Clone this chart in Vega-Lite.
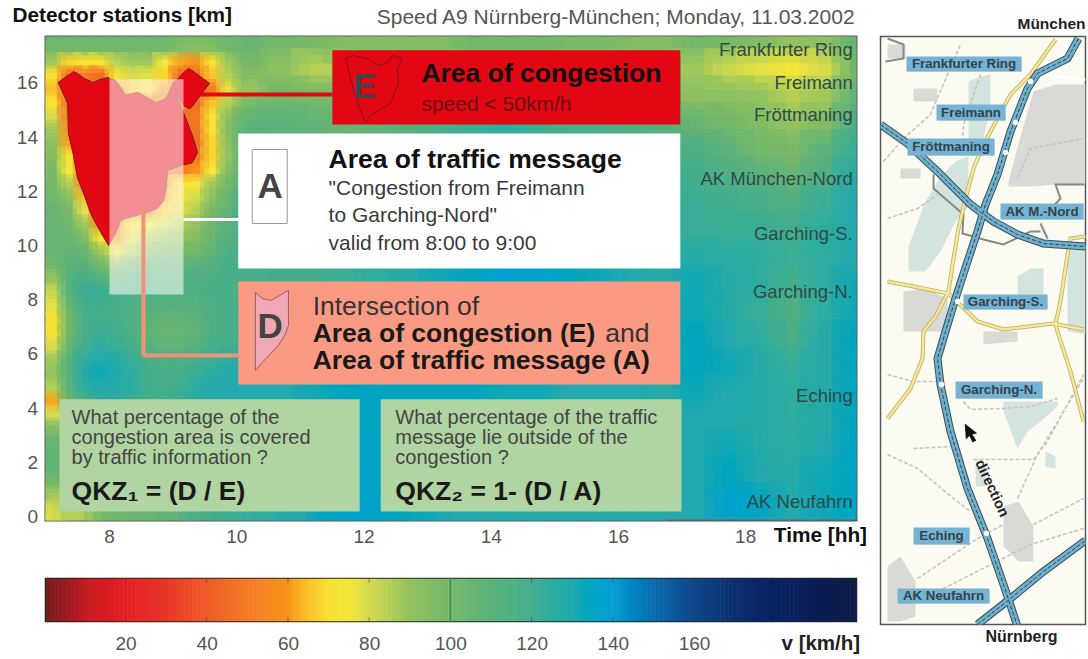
{"$schema":"https://vega.github.io/schema/vega-lite/v6.json","background":"white","padding":{"left":10.5,"top":3.5,"right":1,"bottom":6},"spacing":11,"config":{"font":"Liberation Sans","view":{"stroke":null}},
"hconcat":[{"bounds":"flush","spacing":58,"vconcat":[
{"width":811,"height":484,"view":{"fill":"#2ba7ae","stroke":"#555","strokeWidth":2},
"encoding":{"x":{"field":"t","type":"quantitative","title":null,"scale":{"domain":[7,19.75],"nice":false,"zero":false},"axis":{"values":[8,10,12,14,16,18],"ticks":false,"domain":false,"grid":false,"labelColor":"#555","labelFontSize":19,"labelPadding":7}},"y":{"field":"k","type":"quantitative","title":null,"scale":{"domain":[-0.15,17.71],"nice":false,"zero":false},"axis":{"values":[0,2,4,6,8,10,12,14,16],"ticks":false,"domain":false,"grid":false,"labelColor":"#555","labelFontSize":19,"labelPadding":8}}},
"layer":[
{"encoding":{"color":{"field":"v","type":"quantitative","legend":null,"scale":{"domain":[0,4,11,19,30,40,50,60,65,70,75,80,90,100,110,120,130,140,150,160,170,180,190,200],"range":["#6e1a1e","#8f1a1d","#c81c20","#e31e24","#e83428","#f05a28","#f47a26","#f7941d","#f9c22a","#f8e02f","#f5e63a","#d6db4e","#94c25f","#74b86a","#5db27a","#43ae8e","#23a9ae","#0f9fd3","#0b6cb0","#0d4688","#0b2f72","#08225f","#0a1d58","#0e1a45"]}}},
"layer":[
{"mark":{"type":"rect","width":17,"height":14.5,"clip":true},"data":{"name":"fine","values":[
{"t":7.125,"k":17.75,"v":105},{"t":7.375,"k":17.75,"v":105},{"t":7.625,"k":17.75,"v":105},{"t":7.875,"k":17.75,"v":105},{"t":8.125,"k":17.75,"v":105},{"t":8.375,"k":17.75,"v":105},{"t":8.625,"k":17.75,"v":105},{"t":8.875,"k":17.75,"v":105},{"t":9.125,"k":17.75,"v":100},{"t":9.375,"k":17.75,"v":100},{"t":9.625,"k":17.75,"v":100},{"t":9.875,"k":17.75,"v":105},{"t":10.125,"k":17.75,"v":105},{"t":10.375,"k":17.75,"v":105},
{"t":7.125,"k":17.25,"v":100},{"t":7.375,"k":17.25,"v":100},{"t":7.625,"k":17.25,"v":100},{"t":7.875,"k":17.25,"v":100},{"t":8.125,"k":17.25,"v":100},{"t":8.375,"k":17.25,"v":100},{"t":8.625,"k":17.25,"v":100},{"t":8.875,"k":17.25,"v":100},{"t":9.125,"k":17.25,"v":95},{"t":9.375,"k":17.25,"v":92},{"t":9.625,"k":17.25,"v":95},{"t":9.875,"k":17.25,"v":100},{"t":10.125,"k":17.25,"v":105},{"t":10.375,"k":17.25,"v":105},
{"t":7.125,"k":16.75,"v":88},{"t":7.375,"k":16.75,"v":68},{"t":7.625,"k":16.75,"v":72},{"t":7.875,"k":16.75,"v":70},{"t":8.125,"k":16.75,"v":84},{"t":8.375,"k":16.75,"v":88},{"t":8.625,"k":16.75,"v":88},{"t":8.875,"k":16.75,"v":75},{"t":9.125,"k":16.75,"v":62},{"t":9.375,"k":16.75,"v":60},{"t":9.625,"k":16.75,"v":72},{"t":9.875,"k":16.75,"v":88},{"t":10.125,"k":16.75,"v":98},{"t":10.375,"k":16.75,"v":100},
{"t":7.125,"k":16.25,"v":70},{"t":7.375,"k":16.25,"v":45},{"t":7.625,"k":16.25,"v":50},{"t":7.875,"k":16.25,"v":45},{"t":8.125,"k":16.25,"v":72},{"t":8.375,"k":16.25,"v":80},{"t":8.625,"k":16.25,"v":78},{"t":8.875,"k":16.25,"v":68},{"t":9.125,"k":16.25,"v":45},{"t":9.375,"k":16.25,"v":45},{"t":9.625,"k":16.25,"v":65},{"t":9.875,"k":16.25,"v":85},{"t":10.125,"k":16.25,"v":95},{"t":10.375,"k":16.25,"v":95},
{"t":7.125,"k":15.75,"v":65},{"t":7.375,"k":15.75,"v":45},{"t":7.625,"k":15.75,"v":45},{"t":7.875,"k":15.75,"v":45},{"t":8.125,"k":15.75,"v":55},{"t":8.375,"k":15.75,"v":65},{"t":8.625,"k":15.75,"v":70},{"t":8.875,"k":15.75,"v":60},{"t":9.125,"k":15.75,"v":45},{"t":9.375,"k":15.75,"v":45},{"t":9.625,"k":15.75,"v":52},{"t":9.875,"k":15.75,"v":78},{"t":10.125,"k":15.75,"v":90},{"t":10.375,"k":15.75,"v":90},
{"t":7.125,"k":15.25,"v":72},{"t":7.375,"k":15.25,"v":45},{"t":7.625,"k":15.25,"v":45},{"t":7.875,"k":15.25,"v":45},{"t":8.125,"k":15.25,"v":45},{"t":8.375,"k":15.25,"v":50},{"t":8.625,"k":15.25,"v":55},{"t":8.875,"k":15.25,"v":50},{"t":9.125,"k":15.25,"v":45},{"t":9.375,"k":15.25,"v":45},{"t":9.625,"k":15.25,"v":65},{"t":9.875,"k":15.25,"v":85},{"t":10.125,"k":15.25,"v":95},{"t":10.375,"k":15.25,"v":100},
{"t":7.125,"k":14.75,"v":80},{"t":7.375,"k":14.75,"v":50},{"t":7.625,"k":14.75,"v":45},{"t":7.875,"k":14.75,"v":45},{"t":8.125,"k":14.75,"v":45},{"t":8.375,"k":14.75,"v":45},{"t":8.625,"k":14.75,"v":45},{"t":8.875,"k":14.75,"v":45},{"t":9.125,"k":14.75,"v":45},{"t":9.375,"k":14.75,"v":50},{"t":9.625,"k":14.75,"v":72},{"t":9.875,"k":14.75,"v":92},{"t":10.125,"k":14.75,"v":105},{"t":10.375,"k":14.75,"v":108},
{"t":7.125,"k":14.25,"v":88},{"t":7.375,"k":14.25,"v":60},{"t":7.625,"k":14.25,"v":45},{"t":7.875,"k":14.25,"v":45},{"t":8.125,"k":14.25,"v":45},{"t":8.375,"k":14.25,"v":45},{"t":8.625,"k":14.25,"v":45},{"t":8.875,"k":14.25,"v":45},{"t":9.125,"k":14.25,"v":45},{"t":9.375,"k":14.25,"v":48},{"t":9.625,"k":14.25,"v":72},{"t":9.875,"k":14.25,"v":95},{"t":10.125,"k":14.25,"v":108},{"t":10.375,"k":14.25,"v":112},
{"t":7.125,"k":13.75,"v":92},{"t":7.375,"k":13.75,"v":62},{"t":7.625,"k":13.75,"v":45},{"t":7.875,"k":13.75,"v":45},{"t":8.125,"k":13.75,"v":45},{"t":8.375,"k":13.75,"v":45},{"t":8.625,"k":13.75,"v":45},{"t":8.875,"k":13.75,"v":45},{"t":9.125,"k":13.75,"v":45},{"t":9.375,"k":13.75,"v":45},{"t":9.625,"k":13.75,"v":68},{"t":9.875,"k":13.75,"v":92},{"t":10.125,"k":13.75,"v":108},{"t":10.375,"k":13.75,"v":115},
{"t":7.125,"k":13.25,"v":95},{"t":7.375,"k":13.25,"v":70},{"t":7.625,"k":13.25,"v":48},{"t":7.875,"k":13.25,"v":45},{"t":8.125,"k":13.25,"v":45},{"t":8.375,"k":13.25,"v":45},{"t":8.625,"k":13.25,"v":45},{"t":8.875,"k":13.25,"v":45},{"t":9.125,"k":13.25,"v":45},{"t":9.375,"k":13.25,"v":50},{"t":9.625,"k":13.25,"v":68},{"t":9.875,"k":13.25,"v":90},{"t":10.125,"k":13.25,"v":108},{"t":10.375,"k":13.25,"v":115},
{"t":7.125,"k":12.75,"v":98},{"t":7.375,"k":12.75,"v":75},{"t":7.625,"k":12.75,"v":50},{"t":7.875,"k":12.75,"v":45},{"t":8.125,"k":12.75,"v":45},{"t":8.375,"k":12.75,"v":45},{"t":8.625,"k":12.75,"v":45},{"t":8.875,"k":12.75,"v":45},{"t":9.125,"k":12.75,"v":48},{"t":9.375,"k":12.75,"v":60},{"t":9.625,"k":12.75,"v":75},{"t":9.875,"k":12.75,"v":95},{"t":10.125,"k":12.75,"v":110},{"t":10.375,"k":12.75,"v":118},
{"t":7.125,"k":12.25,"v":100},{"t":7.375,"k":12.25,"v":85},{"t":7.625,"k":12.25,"v":58},{"t":7.875,"k":12.25,"v":45},{"t":8.125,"k":12.25,"v":45},{"t":8.375,"k":12.25,"v":45},{"t":8.625,"k":12.25,"v":45},{"t":8.875,"k":12.25,"v":58},{"t":9.125,"k":12.25,"v":70},{"t":9.375,"k":12.25,"v":75},{"t":9.625,"k":12.25,"v":88},{"t":9.875,"k":12.25,"v":100},{"t":10.125,"k":12.25,"v":112},{"t":10.375,"k":12.25,"v":118},
{"t":7.125,"k":11.75,"v":102},{"t":7.375,"k":11.75,"v":92},{"t":7.625,"k":11.75,"v":65},{"t":7.875,"k":11.75,"v":45},{"t":8.125,"k":11.75,"v":45},{"t":8.375,"k":11.75,"v":45},{"t":8.625,"k":11.75,"v":45},{"t":8.875,"k":11.75,"v":62},{"t":9.125,"k":11.75,"v":72},{"t":9.375,"k":11.75,"v":80},{"t":9.625,"k":11.75,"v":92},{"t":9.875,"k":11.75,"v":105},{"t":10.125,"k":11.75,"v":115},{"t":10.375,"k":11.75,"v":118},
{"t":7.125,"k":11.25,"v":105},{"t":7.375,"k":11.25,"v":98},{"t":7.625,"k":11.25,"v":78},{"t":7.875,"k":11.25,"v":50},{"t":8.125,"k":11.25,"v":45},{"t":8.375,"k":11.25,"v":45},{"t":8.625,"k":11.25,"v":50},{"t":8.875,"k":11.25,"v":68},{"t":9.125,"k":11.25,"v":78},{"t":9.375,"k":11.25,"v":85},{"t":9.625,"k":11.25,"v":98},{"t":9.875,"k":11.25,"v":108},{"t":10.125,"k":11.25,"v":118},{"t":10.375,"k":11.25,"v":118},
{"t":7.125,"k":10.75,"v":105},{"t":7.375,"k":10.75,"v":102},{"t":7.625,"k":10.75,"v":88},{"t":7.875,"k":10.75,"v":60},{"t":8.125,"k":10.75,"v":52},{"t":8.375,"k":10.75,"v":70},{"t":8.625,"k":10.75,"v":75},{"t":8.875,"k":10.75,"v":80},{"t":9.125,"k":10.75,"v":85},{"t":9.375,"k":10.75,"v":90},{"t":9.625,"k":10.75,"v":102},{"t":9.875,"k":10.75,"v":110},{"t":10.125,"k":10.75,"v":118},{"t":10.375,"k":10.75,"v":118},
{"t":7.125,"k":10.25,"v":105},{"t":7.375,"k":10.25,"v":105},{"t":7.625,"k":10.25,"v":95},{"t":7.875,"k":10.25,"v":72},{"t":8.125,"k":10.25,"v":60},{"t":8.375,"k":10.25,"v":78},{"t":8.625,"k":10.25,"v":85},{"t":8.875,"k":10.25,"v":88},{"t":9.125,"k":10.25,"v":90},{"t":9.375,"k":10.25,"v":95},{"t":9.625,"k":10.25,"v":105},{"t":9.875,"k":10.25,"v":112},{"t":10.125,"k":10.25,"v":118},{"t":10.375,"k":10.25,"v":118},
{"t":7.125,"k":9.75,"v":105},{"t":7.375,"k":9.75,"v":108},{"t":7.625,"k":9.75,"v":105},{"t":7.875,"k":9.75,"v":88},{"t":8.125,"k":9.75,"v":78},{"t":8.375,"k":9.75,"v":85},{"t":8.625,"k":9.75,"v":92},{"t":8.875,"k":9.75,"v":95},{"t":9.125,"k":9.75,"v":100},{"t":9.375,"k":9.75,"v":100},{"t":9.625,"k":9.75,"v":108},{"t":9.875,"k":9.75,"v":115},{"t":10.125,"k":9.75,"v":118},{"t":10.375,"k":9.75,"v":118},
{"t":7.125,"k":9.25,"v":100},{"t":7.375,"k":9.25,"v":110},{"t":7.625,"k":9.25,"v":112},{"t":7.875,"k":9.25,"v":100},{"t":8.125,"k":9.25,"v":92},{"t":8.375,"k":9.25,"v":100},{"t":8.625,"k":9.25,"v":105},{"t":8.875,"k":9.25,"v":105},{"t":9.125,"k":9.25,"v":108},{"t":9.375,"k":9.25,"v":110},{"t":9.625,"k":9.25,"v":112},{"t":9.875,"k":9.25,"v":118},{"t":10.125,"k":9.25,"v":118},{"t":10.375,"k":9.25,"v":118},
{"t":7.125,"k":8.75,"v":90},{"t":7.375,"k":8.75,"v":112},{"t":7.625,"k":8.75,"v":118},{"t":7.875,"k":8.75,"v":112},{"t":8.125,"k":8.75,"v":108},{"t":8.375,"k":8.75,"v":110},{"t":8.625,"k":8.75,"v":112},{"t":8.875,"k":8.75,"v":112},{"t":9.125,"k":8.75,"v":112},{"t":9.375,"k":8.75,"v":115},{"t":9.625,"k":8.75,"v":115},{"t":9.875,"k":8.75,"v":118},{"t":10.125,"k":8.75,"v":118},{"t":10.375,"k":8.75,"v":118},
{"t":7.125,"k":8.25,"v":82},{"t":7.375,"k":8.25,"v":112},{"t":7.625,"k":8.25,"v":122},{"t":7.875,"k":8.25,"v":122},{"t":8.125,"k":8.25,"v":118},{"t":8.375,"k":8.25,"v":115},{"t":8.625,"k":8.25,"v":118},{"t":8.875,"k":8.25,"v":115},{"t":9.125,"k":8.25,"v":115},{"t":9.375,"k":8.25,"v":115},{"t":9.625,"k":8.25,"v":118},{"t":9.875,"k":8.25,"v":118},{"t":10.125,"k":8.25,"v":118},{"t":10.375,"k":8.25,"v":118},
{"t":7.125,"k":7.75,"v":78},{"t":7.375,"k":7.75,"v":105},{"t":7.625,"k":7.75,"v":120},{"t":7.875,"k":7.75,"v":120},{"t":8.125,"k":7.75,"v":118},{"t":8.375,"k":7.75,"v":115},{"t":8.625,"k":7.75,"v":113},{"t":8.875,"k":7.75,"v":112},{"t":9.125,"k":7.75,"v":112},{"t":9.375,"k":7.75,"v":112},{"t":9.625,"k":7.75,"v":115},{"t":9.875,"k":7.75,"v":118},
{"t":7.125,"k":7.25,"v":72},{"t":7.375,"k":7.25,"v":100},{"t":7.625,"k":7.25,"v":118},{"t":7.875,"k":7.25,"v":120},{"t":8.125,"k":7.25,"v":118},{"t":8.375,"k":7.25,"v":115},{"t":8.625,"k":7.25,"v":110},{"t":8.875,"k":7.25,"v":108},{"t":9.125,"k":7.25,"v":108},{"t":9.375,"k":7.25,"v":110},{"t":9.625,"k":7.25,"v":115},{"t":9.875,"k":7.25,"v":118},
{"t":7.125,"k":6.75,"v":72},{"t":7.375,"k":6.75,"v":100},{"t":7.625,"k":6.75,"v":118},{"t":7.875,"k":6.75,"v":122},{"t":8.125,"k":6.75,"v":120},{"t":8.375,"k":6.75,"v":115},{"t":8.625,"k":6.75,"v":108},{"t":8.875,"k":6.75,"v":105},{"t":9.125,"k":6.75,"v":105},{"t":9.375,"k":6.75,"v":108},{"t":9.625,"k":6.75,"v":115},{"t":9.875,"k":6.75,"v":118},
{"t":7.125,"k":6.25,"v":80},{"t":7.375,"k":6.25,"v":105},{"t":7.625,"k":6.25,"v":120},{"t":7.875,"k":6.25,"v":125},{"t":8.125,"k":6.25,"v":122},{"t":8.375,"k":6.25,"v":118},{"t":8.625,"k":6.25,"v":112},{"t":8.875,"k":6.25,"v":108},{"t":9.125,"k":6.25,"v":108},{"t":9.375,"k":6.25,"v":112},{"t":9.625,"k":6.25,"v":118},{"t":9.875,"k":6.25,"v":120},
{"t":7.125,"k":5.75,"v":88},{"t":7.375,"k":5.75,"v":112},{"t":7.625,"k":5.75,"v":125},{"t":7.875,"k":5.75,"v":130},{"t":8.125,"k":5.75,"v":128},{"t":8.375,"k":5.75,"v":122},{"t":8.625,"k":5.75,"v":118},{"t":8.875,"k":5.75,"v":115},{"t":9.125,"k":5.75,"v":115},{"t":9.375,"k":5.75,"v":118},{"t":9.625,"k":5.75,"v":122},{"t":9.875,"k":5.75,"v":125},
{"t":7.125,"k":5.25,"v":90},{"t":7.375,"k":5.25,"v":112},{"t":7.625,"k":5.25,"v":128},{"t":7.875,"k":5.25,"v":132},{"t":8.125,"k":5.25,"v":130},{"t":8.375,"k":5.25,"v":125},{"t":8.625,"k":5.25,"v":120},{"t":8.875,"k":5.25,"v":118},{"t":9.125,"k":5.25,"v":118},{"t":9.375,"k":5.25,"v":122},{"t":9.625,"k":5.25,"v":125},{"t":9.875,"k":5.25,"v":128},
{"t":7.125,"k":4.75,"v":85},{"t":7.375,"k":4.75,"v":110},{"t":7.625,"k":4.75,"v":125},{"t":7.875,"k":4.75,"v":130},{"t":8.125,"k":4.75,"v":128},{"t":8.375,"k":4.75,"v":125},{"t":8.625,"k":4.75,"v":120},{"t":8.875,"k":4.75,"v":118},{"t":9.125,"k":4.75,"v":120},{"t":9.375,"k":4.75,"v":125},{"t":9.625,"k":4.75,"v":128},{"t":9.875,"k":4.75,"v":130},
{"t":7.125,"k":4.25,"v":62},{"t":7.375,"k":4.25,"v":105},{"t":7.625,"k":4.25,"v":118},{"t":7.875,"k":4.25,"v":125},{"t":8.125,"k":4.25,"v":125},{"t":8.375,"k":4.25,"v":122},{"t":8.625,"k":4.25,"v":120},{"t":8.875,"k":4.25,"v":120},{"t":9.125,"k":4.25,"v":122},{"t":9.375,"k":4.25,"v":125},{"t":9.625,"k":4.25,"v":128},{"t":9.875,"k":4.25,"v":130},
{"t":7.125,"k":3.75,"v":80},{"t":7.125,"k":3.25,"v":95},{"t":7.125,"k":2.75,"v":105},{"t":7.125,"k":2.25,"v":108},{"t":7.125,"k":1.75,"v":108},{"t":7.125,"k":1.25,"v":100},{"t":7.125,"k":0.75,"v":88},{"t":7.125,"k":0.25,"v":80},{"t":7.125,"k":-0.25,"v":78}
]}},
{"mark":{"type":"rect","width":25,"height":21,"opacity":0.4,"clip":true},"data":{"name":"fine"}},
{"mark":{"type":"rect","width":33,"height":28,"clip":true},"data":{"name":"coarse","values":[
{"t":7.5,"k":0,"v":85},{"t":8,"k":0,"v":100},{"t":8.5,"k":0,"v":105},{"t":9,"k":0,"v":108},{"t":9.5,"k":0,"v":118},{"t":10,"k":0,"v":122},{"t":10.5,"k":0,"v":125},{"t":11,"k":0,"v":130},{"t":11.5,"k":0,"v":136},{"t":12,"k":0,"v":138},{"t":12.5,"k":0,"v":134},{"t":13,"k":0,"v":132},{"t":13.5,"k":0,"v":130},{"t":14,"k":0,"v":130},{"t":14.5,"k":0,"v":128},{"t":15,"k":0,"v":128},{"t":15.5,"k":0,"v":128},{"t":16,"k":0,"v":128},{"t":16.5,"k":0,"v":128},
{"t":10.75,"k":17.5,"v":100},{"t":11.25,"k":17.5,"v":98},{"t":10.75,"k":16.5,"v":92},{"t":11.25,"k":16.5,"v":85},{"t":10.75,"k":15.5,"v":100},{"t":11.25,"k":15.5,"v":98},{"t":10.75,"k":14.5,"v":110},{"t":11.25,"k":14.5,"v":108},
{"t":11.75,"k":17.5,"v":95},{"t":12.25,"k":17.5,"v":95},{"t":12.75,"k":17.5,"v":95},{"t":13.25,"k":17.5,"v":95},{"t":13.75,"k":17.5,"v":100},{"t":14.25,"k":17.5,"v":100},{"t":14.75,"k":17.5,"v":100},{"t":15.25,"k":17.5,"v":98},{"t":15.75,"k":17.5,"v":98},{"t":16.25,"k":17.5,"v":95},{"t":16.75,"k":17.5,"v":95},
{"t":11.75,"k":14.5,"v":105},{"t":12.25,"k":14.5,"v":108},{"t":12.75,"k":14.5,"v":112},{"t":13.25,"k":14.5,"v":118},{"t":13.75,"k":14.5,"v":122},{"t":14.25,"k":14.5,"v":125},{"t":14.75,"k":14.5,"v":122},{"t":15.25,"k":14.5,"v":118},{"t":15.75,"k":14.5,"v":118},{"t":16.25,"k":14.5,"v":115},{"t":16.75,"k":14.5,"v":112},
{"t":10.75,"k":9,"v":120},{"t":11.25,"k":9,"v":120},{"t":11.75,"k":9,"v":122},{"t":12.25,"k":9,"v":125},{"t":12.75,"k":9,"v":128},{"t":13.25,"k":9,"v":132},{"t":13.75,"k":9,"v":135},{"t":14.25,"k":9,"v":138},{"t":14.75,"k":9,"v":138},{"t":15.25,"k":9,"v":135},{"t":15.75,"k":9,"v":132},{"t":16.25,"k":9,"v":130},{"t":16.75,"k":9,"v":128},
{"t":10.25,"k":4.5,"v":130},{"t":10.75,"k":4.5,"v":130},{"t":11.25,"k":4.5,"v":132},{"t":11.75,"k":4.5,"v":135},{"t":12.25,"k":4.5,"v":135},{"t":12.75,"k":4.5,"v":135},{"t":13.25,"k":4.5,"v":135},{"t":13.75,"k":4.5,"v":135},{"t":14.25,"k":4.5,"v":132},{"t":14.75,"k":4.5,"v":132},{"t":15.25,"k":4.5,"v":130},{"t":15.75,"k":4.5,"v":130},{"t":16.25,"k":4.5,"v":130},{"t":16.75,"k":4.5,"v":128},
{"t":12.1,"k":1,"v":137},{"t":12.1,"k":2,"v":136},{"t":12.1,"k":3,"v":135},{"t":12.1,"k":4,"v":135},
{"t":17.25,"k":17.5,"v":100},{"t":17.75,"k":17.5,"v":98},{"t":18.25,"k":17.5,"v":95},{"t":18.75,"k":17.5,"v":90},{"t":19.25,"k":17.5,"v":92},{"t":19.75,"k":17.5,"v":105},
{"t":17.25,"k":16.5,"v":88},{"t":17.75,"k":16.5,"v":82},{"t":18.25,"k":16.5,"v":78},{"t":18.75,"k":16.5,"v":74},{"t":19.25,"k":16.5,"v":80},{"t":19.75,"k":16.5,"v":100},
{"t":17.25,"k":15.5,"v":92},{"t":17.75,"k":15.5,"v":92},{"t":18.25,"k":15.5,"v":90},{"t":18.75,"k":15.5,"v":85},{"t":19.25,"k":15.5,"v":88},{"t":19.75,"k":15.5,"v":108},
{"t":17.25,"k":14.5,"v":105},{"t":17.75,"k":14.5,"v":100},{"t":18.25,"k":14.5,"v":95},{"t":18.75,"k":14.5,"v":90},{"t":19.25,"k":14.5,"v":95},{"t":19.75,"k":14.5,"v":115},
{"t":17.25,"k":13.5,"v":115},{"t":17.75,"k":13.5,"v":110},{"t":18.25,"k":13.5,"v":100},{"t":18.75,"k":13.5,"v":98},{"t":19.25,"k":13.5,"v":110},{"t":19.75,"k":13.5,"v":122},
{"t":17.25,"k":12.5,"v":120},{"t":17.75,"k":12.5,"v":115},{"t":18.25,"k":12.5,"v":112},{"t":18.75,"k":12.5,"v":105},{"t":19.25,"k":12.5,"v":115},{"t":19.75,"k":12.5,"v":128},
{"t":17.25,"k":11.5,"v":122},{"t":17.75,"k":11.5,"v":120},{"t":18.25,"k":11.5,"v":118},{"t":18.75,"k":11.5,"v":115},{"t":19.25,"k":11.5,"v":122},{"t":19.75,"k":11.5,"v":130},
{"t":17.25,"k":10.5,"v":122},{"t":17.75,"k":10.5,"v":122},{"t":18.25,"k":10.5,"v":122},{"t":18.75,"k":10.5,"v":120},{"t":19.25,"k":10.5,"v":125},{"t":19.75,"k":10.5,"v":130},
{"t":17.25,"k":9.5,"v":128},{"t":17.75,"k":9.5,"v":126},{"t":18.25,"k":9.5,"v":125},{"t":18.75,"k":9.5,"v":122},{"t":19.25,"k":9.5,"v":125},{"t":19.75,"k":9.5,"v":130},
{"t":17.25,"k":8.5,"v":132},{"t":17.75,"k":8.5,"v":128},{"t":18.25,"k":8.5,"v":125},{"t":18.75,"k":8.5,"v":120},{"t":19.25,"k":8.5,"v":125},{"t":19.75,"k":8.5,"v":132},
{"t":17.25,"k":7.5,"v":132},{"t":17.75,"k":7.5,"v":128},{"t":18.25,"k":7.5,"v":122},{"t":18.75,"k":7.5,"v":115},{"t":19.25,"k":7.5,"v":125},{"t":19.75,"k":7.5,"v":132},
{"t":17.25,"k":6.5,"v":134},{"t":17.75,"k":6.5,"v":130},{"t":18.25,"k":6.5,"v":125},{"t":18.75,"k":6.5,"v":118},{"t":19.25,"k":6.5,"v":128},{"t":19.75,"k":6.5,"v":134},
{"t":17.25,"k":5.5,"v":134},{"t":17.75,"k":5.5,"v":132},{"t":18.25,"k":5.5,"v":128},{"t":18.75,"k":5.5,"v":124},{"t":19.25,"k":5.5,"v":128},{"t":19.75,"k":5.5,"v":134},
{"t":17.25,"k":4.5,"v":132},{"t":17.75,"k":4.5,"v":130},{"t":18.25,"k":4.5,"v":128},{"t":18.75,"k":4.5,"v":125},{"t":19.25,"k":4.5,"v":128},{"t":19.75,"k":4.5,"v":134},
{"t":17.25,"k":3.5,"v":130},{"t":17.75,"k":3.5,"v":130},{"t":18.25,"k":3.5,"v":128},{"t":18.75,"k":3.5,"v":125},{"t":19.25,"k":3.5,"v":128},{"t":19.75,"k":3.5,"v":134},
{"t":17.25,"k":2.5,"v":130},{"t":17.75,"k":2.5,"v":132},{"t":18.25,"k":2.5,"v":128},{"t":18.75,"k":2.5,"v":126},{"t":19.25,"k":2.5,"v":130},{"t":19.75,"k":2.5,"v":136},
{"t":17.25,"k":1.5,"v":130},{"t":17.75,"k":1.5,"v":134},{"t":18.25,"k":1.5,"v":130},{"t":18.75,"k":1.5,"v":128},{"t":19.25,"k":1.5,"v":132},{"t":19.75,"k":1.5,"v":136},
{"t":17.25,"k":0.5,"v":130},{"t":17.75,"k":0.5,"v":138},{"t":18.25,"k":0.5,"v":135},{"t":18.75,"k":0.5,"v":130},{"t":19.25,"k":0.5,"v":132},{"t":19.75,"k":0.5,"v":136}
]}},
{"mark":{"type":"rect","width":50,"height":42,"opacity":0.4,"clip":true},"data":{"name":"coarse"}}
]},
{"mark":{"type":"area","orient":"vertical","color":"#e30613","stroke":"#7a1a20","strokeWidth":1},"encoding":{"y2":{"field":"k2"},"detail":{"field":"g"}},"data":{"values":[
{"g":"main","t":7.2,"k":16.01,"k2":16.01},{"g":"main","t":7.35,"k":16.27,"k2":15.24},{"g":"main","t":7.36,"k":16.27,"k2":14.13},{"g":"main","t":7.44,"k":16.42,"k2":13.32},{"g":"main","t":7.5,"k":16.35,"k2":12.51},{"g":"main","t":7.61,"k":16.16,"k2":11.85},{"g":"main","t":7.71,"k":16.05,"k2":11.18},{"g":"main","t":7.75,"k":16.01,"k2":11},{"g":"main","t":7.86,"k":16.13,"k2":10.52},{"g":"main","t":7.99,"k":16.2,"k2":10},{"g":"main","t":8.02,"k":16.13,"k2":10.11},{"g":"main","t":8.1,"k":16.09,"k2":10.44},{"g":"main","t":8.18,"k":15.83,"k2":10.92},{"g":"main","t":8.26,"k":15.54,"k2":11},{"g":"main","t":8.45,"k":15.65,"k2":11.11},{"g":"main","t":8.73,"k":15.28,"k2":11.33},{"g":"main","t":8.76,"k":15.28,"k2":11.37},{"g":"main","t":8.86,"k":15.39,"k2":11.66},{"g":"main","t":8.89,"k":15.42,"k2":12.03},{"g":"main","t":8.92,"k":15.54,"k2":12.77},{"g":"main","t":9.01,"k":16.01,"k2":12.84},{"g":"main","t":9.09,"k":15.35,"k2":12.92},{"g":"main","t":9.17,"k":14.91,"k2":12.99},{"g":"main","t":9.2,"k":14.72,"k2":12.99},{"g":"main","t":9.28,"k":14.24,"k2":13.03},{"g":"main","t":9.31,"k":14.06,"k2":13.06},{"g":"main","t":9.39,"k":13.43,"k2":13.43},
{"g":"lobe","t":9.01,"k":16.01,"k2":16.01},{"g":"lobe","t":9.09,"k":16.16,"k2":15.46},{"g":"lobe","t":9.17,"k":16.38,"k2":15.17},{"g":"lobe","t":9.25,"k":16.53,"k2":15.06},{"g":"lobe","t":9.28,"k":16.49,"k2":15.06},{"g":"lobe","t":9.58,"k":15.98,"k2":15.98}
]}},
{"mark":{"type":"rect","color":"#ffffff","opacity":0.55},"encoding":{"x2":{"field":"t2"},"y2":{"field":"k2"}},"data":{"values":[{"t":8.006,"t2":9.17,"k":16.13,"k2":8.19}]}},
{"mark":{"type":"rule","color":"#e30613","strokeWidth":4},"encoding":{"x2":{"field":"t2"},"y2":{"field":"k2"}},"data":{"values":[{"t":9.43,"t2":11.51,"k":15.57,"k2":15.57}]}},
{"mark":{"type":"rule","color":"#ffffff","strokeWidth":3},"encoding":{"x2":{"field":"t2"},"y2":{"field":"k2"}},"data":{"values":[{"t":9.17,"t2":10.03,"k":10.96,"k2":10.96}]}},
{"mark":{"type":"rule","color":"#f4917a","strokeWidth":4},"encoding":{"x2":{"field":"t2"},"y2":{"field":"k2"}},"data":{"values":[{"t":8.54,"t2":8.54,"k":11.37,"k2":5.94},{"t":8.54,"t2":10.03,"k":5.94,"k2":5.94}]}},
{"mark":{"type":"rect","color":"#e30613"},"encoding":{"x2":{"field":"t2"},"y2":{"field":"k2"}},"data":{"values":[{"t":11.51,"t2":16.98,"k":17.2,"k2":14.46}]}},
{"mark":{"type":"rect","color":"#ffffff"},"encoding":{"x2":{"field":"t2"},"y2":{"field":"k2"}},"data":{"values":[{"t":10.03,"t2":16.98,"k":14.13,"k2":9.15}]}},
{"mark":{"type":"rect","color":"#fb9a83"},"encoding":{"x2":{"field":"t2"},"y2":{"field":"k2"}},"data":{"values":[{"t":10.03,"t2":16.98,"k":8.67,"k2":4.87}]}},
{"mark":{"type":"rect","color":"#b0d4a2"},"encoding":{"x2":{"field":"t2"},"y2":{"field":"k2"}},"data":{"values":[{"t":7.22,"t2":11.94,"k":4.32,"k2":0.18},{"t":12.27,"t2":17,"k":4.32,"k2":0.18}]}},
{"mark":{"type":"line","order":false,"color":"#7a1520","strokeWidth":1},"data":{"values":[{"t":11.72,"k":16.9},{"t":11.84,"k":17.01},{"t":12.06,"k":16.9},{"t":12.22,"k":16.64},{"t":12.38,"k":16.75},{"t":12.46,"k":17.01},{"t":12.61,"k":16.9},{"t":12.53,"k":16.53},{"t":12.55,"k":15.98},{"t":12.42,"k":15.24},{"t":12.3,"k":15.06},{"t":12.11,"k":14.8},{"t":12.03,"k":14.54},{"t":11.91,"k":15.24},{"t":11.8,"k":16.09},{"t":11.72,"k":16.9}]}},
{"mark":{"type":"rect","color":"#ffffff","stroke":"#999999","strokeWidth":1},"encoding":{"x2":{"field":"t2"},"y2":{"field":"k2"}},"data":{"values":[{"t":10.25,"t2":10.8,"k":13.54,"k2":10.81}]}},
{"mark":{"type":"area","orient":"vertical","color":"#f0a8b4","stroke":"#7a5058","strokeWidth":0.8},"encoding":{"y2":{"field":"k2"}},"data":{"values":[{"t":10.3,"k":8.27,"k2":5.39},{"t":10.41,"k":8.04,"k2":5.68},{"t":10.54,"k":7.97,"k2":6.01},{"t":10.66,"k":8.12,"k2":6.31},{"t":10.76,"k":8.27,"k2":6.68},{"t":10.82,"k":8.34,"k2":7.05}]}},
{"mark":{"type":"text","align":"center","baseline":"middle","fontSize":35,"fontWeight":"bold","color":"#444444"},"encoding":{"text":{"field":"s"}},"data":{"values":[{"s":"E","t":12.02,"k":15.85},{"s":"A","t":10.53,"k":12.15},{"s":"D","t":10.53,"k":7.0}]}},
{"mark":{"type":"text","align":"left","baseline":"middle","fontSize":20.8,"fontWeight":"bold","color":"#111111"},"encoding":{"text":{"field":"s"}},"data":{"values":[{"s":"Detector stations [km]","t":6.48,"k":18.45},{"s":"Time [hh]","t":18.45,"k":-0.74}]}},
{"mark":{"type":"text","align":"right","baseline":"middle","fontSize":21,"color":"#555555"},"encoding":{"text":{"field":"s"}},"data":{"values":[{"s":"Speed A9 Nürnberg-München; Monday, 11.03.2002","t":19.72,"k":18.41}]}},
{"mark":{"type":"text","align":"right","baseline":"middle","fontSize":18.5,"color":"#2f4a4a"},"encoding":{"text":{"field":"s"}},"data":{"values":[{"s":"Frankfurter Ring","t":19.69,"k":17.23},{"s":"Freimann","t":19.69,"k":15.98},{"s":"Fröttmaning","t":19.69,"k":14.83},{"s":"AK München-Nord","t":19.69,"k":12.47},{"s":"Garching-S.","t":19.69,"k":10.44},{"s":"Garching-N.","t":19.69,"k":8.27},{"s":"Eching","t":19.69,"k":4.43},{"s":"AK Neufahrn","t":19.69,"k":0.55}]}},
{"mark":{"type":"text","align":"left","baseline":"middle","fontSize":26.5,"fontWeight":"bold","color":"#111111"},"encoding":{"text":{"field":"s"}},"data":{"values":[{"s":"Area of congestion","t":12.91,"k":16.31},{"s":"Area of traffic message","t":11.45,"k":13.14}]}},
{"mark":{"type":"text","align":"left","baseline":"middle","fontSize":21,"color":"#6a1010"},"encoding":{"text":{"field":"s"}},"data":{"values":[{"s":"speed < 50km/h","t":12.91,"k":15.2}]}},
{"mark":{"type":"text","align":"left","baseline":"middle","fontSize":21,"color":"#3a3a3a"},"encoding":{"text":{"field":"s"}},"data":{"values":[{"s":"\"Congestion from Freimann","t":11.45,"k":12.1},{"s":"to Garching-Nord\"","t":11.45,"k":11.07},{"s":"valid from 8:00 to 9:00","t":11.45,"k":10.04}]}},
{"mark":{"type":"text","align":"left","baseline":"middle","fontSize":26.5,"color":"#333333"},"encoding":{"text":{"field":"s"}},"data":{"values":[{"s":"Intersection of","t":11.2,"k":7.71},{"s":"and","t":15.8,"k":6.72}]}},
{"mark":{"type":"text","align":"left","baseline":"middle","fontSize":26.5,"fontWeight":"bold","color":"#1a1a1a"},"encoding":{"text":{"field":"s"}},"data":{"values":[{"s":"Area of congestion (E)","t":11.2,"k":6.72},{"s":"Area of traffic message (A)","t":11.2,"k":5.72},{"s":"QKZ₁ = (D / E)","t":7.41,"k":0.89},{"s":"QKZ₂ = 1- (D / A)","t":12.5,"k":0.89}]}},
{"mark":{"type":"text","align":"left","baseline":"middle","fontSize":20,"color":"#444444"},"encoding":{"text":{"field":"s"}},"data":{"values":[{"s":"What percentage of the","t":7.41,"k":3.62},{"s":"congestion area is covered","t":7.41,"k":2.88},{"s":"by traffic information ?","t":7.41,"k":2.14},{"s":"What percentage of the traffic","t":12.5,"k":3.62},{"s":"message lie outside of the","t":12.5,"k":2.88},{"s":"congestion ?","t":12.5,"k":2.14}]}}
]},
{"width":811,"height":43,"view":{"stroke":"#222","strokeWidth":1.5},
"encoding":{"x":{"field":"v","type":"quantitative","title":null,"scale":{"domain":[0.3,200],"nice":false,"zero":false},"axis":{"values":[20,40,60,80,100,120,140,160],"ticks":false,"domain":false,"grid":false,"labelColor":"#555","labelFontSize":19,"labelPadding":13}}},
"layer":[
{"mark":{"type":"rect","width":4.6,"clip":true},"encoding":{"color":{"field":"v","type":"quantitative","legend":null,"scale":{"domain":[0,4,11,19,30,40,50,60,65,70,75,80,90,100,110,120,130,140,150,160,170,180,190,200],"range":["#6e1a1e","#8f1a1d","#c81c20","#e31e24","#e83428","#f05a28","#f47a26","#f7941d","#f9c22a","#f8e02f","#f5e63a","#d6db4e","#94c25f","#74b86a","#5db27a","#43ae8e","#23a9ae","#0f9fd3","#0b6cb0","#0d4688","#0b2f72","#08225f","#0a1d58","#0e1a45"]}}},
"data":{"values":[{"v":1},{"v":2},{"v":3},{"v":4},{"v":5},{"v":6},{"v":7},{"v":8},{"v":9},{"v":10},{"v":11},{"v":12},{"v":13},{"v":14},{"v":15},{"v":16},{"v":17},{"v":18},{"v":19},{"v":20},{"v":21},{"v":22},{"v":23},{"v":24},{"v":25},{"v":26},{"v":27},{"v":28},{"v":29},{"v":30},{"v":31},{"v":32},{"v":33},{"v":34},{"v":35},{"v":36},{"v":37},{"v":38},{"v":39},{"v":40},{"v":41},{"v":42},{"v":43},{"v":44},{"v":45},{"v":46},{"v":47},{"v":48},{"v":49},{"v":50},{"v":51},{"v":52},{"v":53},{"v":54},{"v":55},{"v":56},{"v":57},{"v":58},{"v":59},{"v":60},{"v":61},{"v":62},{"v":63},{"v":64},{"v":65},{"v":66},{"v":67},{"v":68},{"v":69},{"v":70},{"v":71},{"v":72},{"v":73},{"v":74},{"v":75},{"v":76},{"v":77},{"v":78},{"v":79},{"v":80},{"v":81},{"v":82},{"v":83},{"v":84},{"v":85},{"v":86},{"v":87},{"v":88},{"v":89},{"v":90},{"v":91},{"v":92},{"v":93},{"v":94},{"v":95},{"v":96},{"v":97},{"v":98},{"v":99},{"v":100},{"v":101},{"v":102},{"v":103},{"v":104},{"v":105},{"v":106},{"v":107},{"v":108},{"v":109},{"v":110},{"v":111},{"v":112},{"v":113},{"v":114},{"v":115},{"v":116},{"v":117},{"v":118},{"v":119},{"v":120},{"v":121},{"v":122},{"v":123},{"v":124},{"v":125},{"v":126},{"v":127},{"v":128},{"v":129},{"v":130},{"v":131},{"v":132},{"v":133},{"v":134},{"v":135},{"v":136},{"v":137},{"v":138},{"v":139},{"v":140},{"v":141},{"v":142},{"v":143},{"v":144},{"v":145},{"v":146},{"v":147},{"v":148},{"v":149},{"v":150},{"v":151},{"v":152},{"v":153},{"v":154},{"v":155},{"v":156},{"v":157},{"v":158},{"v":159},{"v":160},{"v":161},{"v":162},{"v":163},{"v":164},{"v":165},{"v":166},{"v":167},{"v":168},{"v":169},{"v":170},{"v":171},{"v":172},{"v":173},{"v":174},{"v":175},{"v":176},{"v":177},{"v":178},{"v":179},{"v":180},{"v":181},{"v":182},{"v":183},{"v":184},{"v":185},{"v":186},{"v":187},{"v":188},{"v":189},{"v":190},{"v":191},{"v":192},{"v":193},{"v":194},{"v":195},{"v":196},{"v":197},{"v":198},{"v":199},{"v":200}]}},
{"mark":{"type":"rule","color":"#3a3a3a","opacity":0.6,"strokeWidth":1},"encoding":{"y":{"field":"a","type":"quantitative","axis":null,"scale":{"domain":[0,1]}},"y2":{"field":"b"}},"data":{"values":[{"v":20,"a":0,"b":0.1},{"v":40,"a":0,"b":0.1},{"v":60,"a":0,"b":0.1},{"v":80,"a":0,"b":0.1},{"v":120,"a":0,"b":0.1},{"v":140,"a":0,"b":0.1},{"v":160,"a":0,"b":0.1},{"v":180,"a":0,"b":0.1},{"v":20,"a":0.9,"b":1},{"v":40,"a":0.9,"b":1},{"v":60,"a":0.9,"b":1},{"v":80,"a":0.9,"b":1},{"v":120,"a":0.9,"b":1},{"v":140,"a":0.9,"b":1},{"v":160,"a":0.9,"b":1},{"v":180,"a":0.9,"b":1}]}},
{"mark":{"type":"rule","color":"#4a8d4a","strokeWidth":1.5},"encoding":{"y":{"field":"a","type":"quantitative","axis":null},"y2":{"field":"b"}},"data":{"values":[{"v":100,"a":0,"b":1}]}},
{"mark":{"type":"text","align":"right","baseline":"middle","fontSize":20.5,"fontWeight":"bold","color":"#222222"},"encoding":{"y":{"field":"a","type":"quantitative","axis":null},"text":{"field":"s"}},"data":{"values":[{"s":"v [km/h]","v":200.9,"a":-0.53}]}}
]}
]},
{"width":205,"height":588,"view":{"fill":"#fbfbf2","stroke":"#555","strokeWidth":1.5},
"encoding":{"x":{"field":"x","type":"quantitative","axis":null,"scale":{"domain":[0,205],"nice":false,"zero":false}},"y":{"field":"y","type":"quantitative","axis":null,"scale":{"domain":[588,0],"nice":false,"zero":false}}},
"layer":[
{"mark":{"type":"point","filled":true,"opacity":0,"size":4},"data":{"values":[{"x":100,"y":-26.7}]}},
{"mark":{"type":"area","orient":"vertical","color":"#d3e3dd","clip":true},"encoding":{"y2":{"field":"y2"},"detail":{"field":"g"}},"data":{"values":[
{"g":"p1","x":28,"y":210,"y2":235},{"g":"p1","x":45,"y":165,"y2":235},{"g":"p1","x":60,"y":140,"y2":215},{"g":"p1","x":75,"y":125,"y2":185},{"g":"p1","x":88,"y":120,"y2":170},
{"g":"p2","x":88,"y":45,"y2":110},{"g":"p2","x":100,"y":40,"y2":115},{"g":"p2","x":110,"y":38,"y2":70},
{"g":"p3","x":187,"y":215,"y2":295},{"g":"p3","x":205,"y":210,"y2":298},
{"g":"p4","x":137,"y":240,"y2":262},{"g":"p4","x":150,"y":232,"y2":262},{"g":"p4","x":163,"y":232,"y2":258},
{"g":"p5","x":123,"y":365,"y2":375},{"g":"p5","x":137,"y":365,"y2":412},{"g":"p5","x":147,"y":365,"y2":395},{"g":"p5","x":160,"y":365,"y2":385},{"g":"p5","x":177,"y":365,"y2":370},
{"g":"p6","x":95,"y":430,"y2":450},{"g":"p6","x":105,"y":430,"y2":450},
{"g":"p7","x":165,"y":415,"y2":430},{"g":"p7","x":175,"y":420,"y2":432}
]}},
{"mark":{"type":"area","orient":"vertical","color":"#d9d9d5","clip":true},"encoding":{"y2":{"field":"y2"},"detail":{"field":"g"}},"data":{"values":[
{"g":"g1","x":128,"y":145,"y2":150},{"g":"g1","x":140,"y":100,"y2":150},{"g":"g1","x":153,"y":55,"y2":150},{"g":"g1","x":175,"y":48,"y2":148},{"g":"g1","x":205,"y":48,"y2":148},
{"g":"g2","x":33,"y":52,"y2":65},{"g":"g2","x":57,"y":52,"y2":65},
{"g":"g3","x":7,"y":8,"y2":22},{"g":"g3","x":25,"y":8,"y2":22},
{"g":"g4","x":23,"y":255,"y2":295},{"g":"g4","x":45,"y":252,"y2":295},{"g":"g4","x":67,"y":262,"y2":295},
{"g":"g5","x":123,"y":470,"y2":510},{"g":"g5","x":138,"y":465,"y2":525},{"g":"g5","x":153,"y":490,"y2":525},
{"g":"g6","x":7,"y":530,"y2":585},{"g":"g6","x":20,"y":520,"y2":585},{"g":"g6","x":35,"y":545,"y2":580},
{"g":"g7","x":103,"y":295,"y2":308},{"g":"g7","x":137,"y":295,"y2":305},
{"g":"g8","x":20,"y":132,"y2":142},{"g":"g8","x":40,"y":132,"y2":142}
]}},
{"mark":{"type":"line","order":false,"color":"#c4c4be","strokeWidth":1.5,"strokeDash":[4,2],"clip":true},"encoding":{"detail":{"field":"g"}},"data":{"values":[
{"g":"l1","x":83,"y":365},{"g":"l1","x":90,"y":373},{"g":"l1","x":120,"y":372},{"g":"l1","x":150,"y":370},{"g":"l1","x":177,"y":362},
{"g":"l2","x":33,"y":412},{"g":"l2","x":70,"y":410},
{"g":"l3","x":7,"y":418},{"g":"l3","x":37,"y":432},{"g":"l3","x":73,"y":462},{"g":"l3","x":90,"y":475},
{"g":"l4","x":93,"y":423},{"g":"l4","x":153,"y":423},{"g":"l4","x":167,"y":405},{"g":"l4","x":203,"y":338},
{"g":"l5","x":137,"y":462},{"g":"l5","x":157,"y":418},{"g":"l5","x":203,"y":342},
{"g":"l6","x":153,"y":488},{"g":"l6","x":203,"y":462},
{"g":"l7","x":37,"y":542},{"g":"l7","x":97,"y":502},{"g":"l7","x":123,"y":488},
{"g":"l8","x":57,"y":555},{"g":"l8","x":150,"y":508},{"g":"l8","x":203,"y":492},
{"g":"l9","x":137,"y":142},{"g":"l9","x":150,"y":112},{"g":"l9","x":203,"y":102},
{"g":"l10","x":7,"y":182},{"g":"l10","x":37,"y":172},{"g":"l10","x":57,"y":158},
{"g":"l11","x":7,"y":338},{"g":"l11","x":33,"y":345},{"g":"l11","x":60,"y":345},
{"g":"l12","x":3,"y":125},{"g":"l12","x":23,"y":102},{"g":"l12","x":50,"y":78},{"g":"l12","x":67,"y":38},{"g":"l12","x":80,"y":8},
{"g":"l13","x":100,"y":38},{"g":"l13","x":83,"y":88},{"g":"l13","x":82,"y":108}
]}},
{"mark":{"type":"line","order":false,"color":"#ffffff","strokeWidth":3,"clip":true},"data":{"values":[{"x":153,"y":38},{"x":205,"y":43}]}},
{"mark":{"type":"line","order":false,"color":"#888888","strokeWidth":2,"clip":true},"encoding":{"detail":{"field":"g"}},"data":{"values":[
{"g":"a","x":204,"y":148},{"g":"a","x":175,"y":148},{"g":"a","x":180,"y":162},{"g":"a","x":165,"y":178},
{"g":"a2","x":160,"y":187},{"g":"a2","x":167,"y":202},
{"g":"b","x":53,"y":138},{"g":"b","x":53,"y":152},{"g":"b","x":83,"y":178},{"g":"b","x":82,"y":197},{"g":"b","x":103,"y":203},{"g":"b","x":123,"y":208},{"g":"b","x":150,"y":195},{"g":"b","x":160,"y":195},
{"g":"c","x":7,"y":2},{"g":"c","x":23,"y":8},{"g":"c","x":23,"y":22},{"g":"c","x":5,"y":25}
]}},
{"mark":{"type":"line","order":false,"color":"#b8ac62","strokeWidth":4,"clip":true},"encoding":{"detail":{"field":"g"}},"data":{"name":"yellow","values":[
{"g":"y1","x":175,"y":3},{"g":"y1","x":150,"y":38},{"g":"y1","x":130,"y":58},{"g":"y1","x":117,"y":82},{"g":"y1","x":103,"y":108},{"g":"y1","x":93,"y":132},{"g":"y1","x":85,"y":162},{"g":"y1","x":78,"y":192},{"g":"y1","x":72,"y":228},{"g":"y1","x":68,"y":255},{"g":"y1","x":55,"y":280},{"g":"y1","x":43,"y":295},{"g":"y1","x":42,"y":322},{"g":"y1","x":30,"y":352},{"g":"y1","x":7,"y":382},
{"g":"y2","x":7,"y":245},{"g":"y2","x":33,"y":250},{"g":"y2","x":68,"y":257},{"g":"y2","x":97,"y":285},{"g":"y2","x":123,"y":293},{"g":"y2","x":173,"y":287},{"g":"y2","x":203,"y":293},
{"g":"y3","x":205,"y":200},{"g":"y3","x":190,"y":202},{"g":"y3","x":187,"y":218},{"g":"y3","x":180,"y":265},{"g":"y3","x":175,"y":287},{"g":"y3","x":177,"y":295},{"g":"y3","x":190,"y":335},{"g":"y3","x":203,"y":385}
]}},
{"mark":{"type":"line","order":false,"color":"#f6e695","strokeWidth":2.5,"clip":true},"encoding":{"detail":{"field":"g"}},"data":{"name":"yellow"}},
{"mark":{"type":"line","order":false,"color":"#37505e","strokeWidth":8,"clip":true},"encoding":{"detail":{"field":"g"}},"data":{"name":"motorway","values":[
{"g":"m1","x":198,"y":2},{"g":"m1","x":187,"y":22},{"g":"m1","x":157,"y":37},{"g":"m1","x":147,"y":52},{"g":"m1","x":130,"y":95},{"g":"m1","x":117,"y":138},{"g":"m1","x":105,"y":168},{"g":"m1","x":97,"y":195},{"g":"m1","x":87,"y":225},{"g":"m1","x":75,"y":262},{"g":"m1","x":65,"y":295},{"g":"m1","x":57,"y":322},{"g":"m1","x":60,"y":348},{"g":"m1","x":70,"y":395},{"g":"m1","x":87,"y":452},{"g":"m1","x":107,"y":502},{"g":"m1","x":123,"y":548},{"g":"m1","x":137,"y":590},
{"g":"m2","x":0,"y":88},{"g":"m2","x":27,"y":107},{"g":"m2","x":57,"y":135},{"g":"m2","x":90,"y":168},{"g":"m2","x":113,"y":185},{"g":"m2","x":137,"y":198},{"g":"m2","x":163,"y":207},{"g":"m2","x":205,"y":210},
{"g":"m3","x":97,"y":588},{"g":"m3","x":130,"y":562},{"g":"m3","x":163,"y":535},{"g":"m3","x":205,"y":504}
]}},
{"mark":{"type":"line","order":false,"color":"#6fb0cd","strokeWidth":6,"clip":true},"encoding":{"detail":{"field":"g"}},"data":{"name":"motorway"}},
{"mark":{"type":"line","order":false,"color":"#2f4450","strokeWidth":1,"strokeDash":[4,2],"clip":true},"encoding":{"detail":{"field":"g"}},"data":{"name":"motorway"}},
{"mark":{"type":"point","filled":true,"color":"#ffffff","opacity":1,"size":28},"data":{"values":[{"x":150,"y":45},{"x":135,"y":86},{"x":125,"y":116},{"x":77,"y":265},{"x":61,"y":348},{"x":106,"y":497}]}},
{"mark":{"type":"rect","color":"#8a8a8a","opacity":0.5,"xOffset":2,"yOffset":3},"encoding":{"x2":{"field":"x2"},"y2":{"field":"y2"}},"data":{"name":"labels","values":[
{"s":"Frankfurter Ring","x":26,"x2":141,"y":20,"y2":35,"cx":83.5,"cy":27.5},{"s":"Freimann","x":56,"x2":125,"y":68,"y2":84,"cx":90.5,"cy":76},{"s":"Fröttmaning","x":27,"x2":114,"y":102,"y2":119,"cx":70.5,"cy":110.5},{"s":"AK M.-Nord","x":120,"x2":203,"y":167,"y2":183,"cx":161.5,"cy":175},{"s":"Garching-S.","x":83,"x2":167,"y":258,"y2":273,"cx":125,"cy":265.5},{"s":"Garching-N.","x":75,"x2":162,"y":345,"y2":362,"cx":118.5,"cy":353.5},{"s":"Eching","x":33,"x2":89,"y":491,"y2":508,"cx":61,"cy":499.5},{"s":"AK Neufahrn","x":17,"x2":109,"y":552,"y2":567,"cx":63,"cy":559.5}
]}},
{"mark":{"type":"rect","color":"#74b3d3"},"encoding":{"x2":{"field":"x2"},"y2":{"field":"y2"}},"data":{"name":"labels"}},
{"mark":{"type":"text","align":"center","baseline":"middle","fontSize":13.3,"fontWeight":"bold","color":"#33434a"},"encoding":{"x":{"field":"cx","type":"quantitative"},"y":{"field":"cy","type":"quantitative"},"text":{"field":"s"}},"data":{"name":"labels"}},
{"mark":{"type":"point","filled":true,"color":"#111111","opacity":1,"size":420,"angle":-28,"shape":"M0,-1L0.62,0.42L0.16,0.3L0.22,1L-0.2,1L-0.16,0.3L-0.62,0.42Z"},"data":{"values":[{"x":89,"y":396}]}},
{"mark":{"type":"text","align":"center","baseline":"middle","fontSize":14.5,"fontWeight":"bold","color":"#222222","angle":65},"encoding":{"text":{"field":"s"}},"data":{"values":[{"s":"direction","x":111,"y":452}]}},
{"mark":{"type":"text","align":"right","baseline":"middle","fontSize":15.5,"fontWeight":"bold","color":"#222222"},"encoding":{"text":{"field":"s"}},"data":{"values":[{"s":"München","x":205,"y":-13}]}},
{"mark":{"type":"text","align":"center","baseline":"middle","fontSize":16,"fontWeight":"bold","color":"#222222"},"encoding":{"text":{"field":"s"}},"data":{"values":[{"s":"Nürnberg","x":141,"y":600}]}}
]}
]}
